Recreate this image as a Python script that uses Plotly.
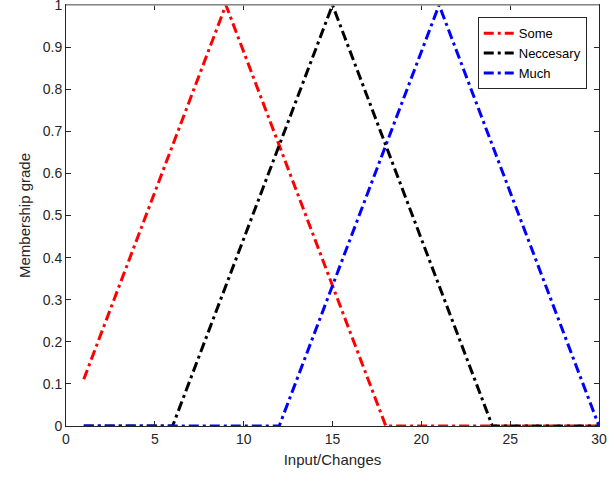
import plotly.graph_objects as go

# Data: vertices of the membership functions
some_x = [1, 9, 18, 30]
some_y = [0.111, 1.0, 0.0, 0.0]
nec_x = [1, 6, 15, 24, 30]
nec_y = [0.0, 0.0, 1.0, 0.0, 0.0]
much_x = [1, 12, 21, 30]
much_y = [0.0, 0.0, 1.0, 0.0]

x_ticks = [0, 5, 10, 15, 20, 25, 30]
y_ticks = [0, 0.1, 0.2, 0.3, 0.4, 0.5, 0.6, 0.7, 0.8, 0.9, 1]
y_labels = ["0", "0.1", "0.2", "0.3", "0.4", "0.5", "0.6", "0.7", "0.8", "0.9", "1"]

fig = go.Figure()
for xs, ys, name, col in [(some_x, some_y, "Some", "#ff0000"),
                          (nec_x, nec_y, "Neccesary", "#000000"),
                          (much_x, much_y, "Much", "#0000ff")]:
    fig.add_trace(go.Scatter(x=xs, y=ys, mode="lines", name=name,
                             line=dict(color=col, width=3, dash="10px,4px,3px,4px")))

axis_common = dict(showline=True, linecolor="#262626", linewidth=1, mirror="ticks",
                   ticks="inside", ticklen=5, tickcolor="#262626", showgrid=False,
                   zeroline=False, automargin=False, ticklabeloverflow="allow",
                   tickfont=dict(family="Liberation Sans, Arial", size=14, color="#262626"),
                   title_font=dict(family="Liberation Sans, Arial", size=15, color="#262626"))

fig.update_xaxes(range=[0, 30], tickvals=x_ticks, title_text="Input/Changes",
                 title_standoff=8, **axis_common)
fig.update_yaxes(range=[0, 1.00001], tickvals=y_ticks, ticktext=y_labels,
                 title_text="Membership grade", title_standoff=8, **axis_common)

fig.add_shape(type="line", xref="paper", yref="paper", x0=0, x1=1, y0=1, y1=1,
              line=dict(color="#a6a6a6", width=1.5), layer="above")

fig.update_layout(
    width=614, height=481,
    margin=dict(l=66, r=15, t=5, b=55),
    paper_bgcolor="white", plot_bgcolor="white",
    font=dict(family="Liberation Sans, Arial", color="#262626"),
    legend=dict(x=0.977, y=0.971, xanchor="right", yanchor="top",
                bordercolor="#262626", borderwidth=1, bgcolor="white",
                font=dict(size=13, color="#000000"), tracegroupgap=0),
    showlegend=True,
)

fig.write_html("out.html", config={"displayModeBar": False},
               post_script="document.body.style.margin='0px';")
